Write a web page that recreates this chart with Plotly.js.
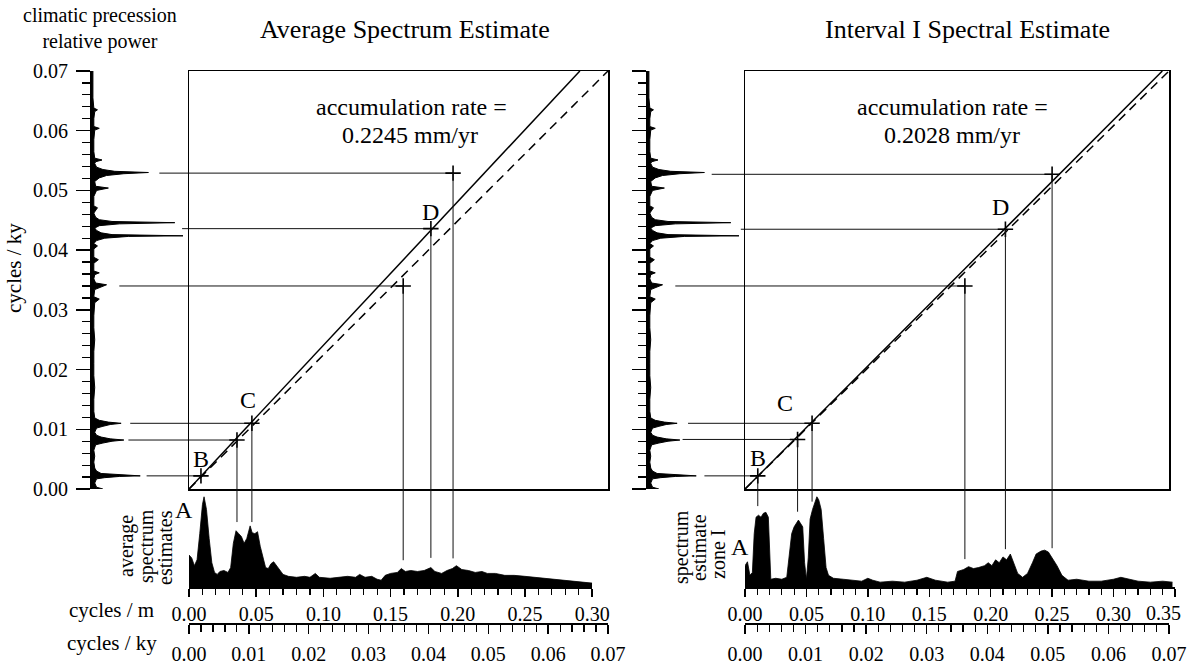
<!DOCTYPE html>
<html><head><meta charset="utf-8">
<script src="https://cdn.plot.ly/plotly-3.0.1.min.js"></script>
<style>html,body{margin:0;padding:0;background:#fff}#chart{width:1190px;height:668px}</style>
</head><body><div id="chart"></div>
<script>
// ---------------- data ----------------
// climatic precession spectrum: frequency (cycles/ky) and relative power
const precFreq = [0.0000,0.0003,0.0010,0.0017,0.0019,0.0021,0.0022,0.0024,0.0026,0.0030,0.0035,0.0045,0.0055,0.0065,0.0074,0.0077,0.0080,0.0082,0.0084,0.0087,0.0090,0.0095,0.0102,0.0105,0.0108,0.0110,0.0112,0.0115,0.0119,0.0130,0.0150,0.0170,0.0190,0.0210,0.0230,0.0250,0.0270,0.0290,0.0312,0.0318,0.0322,0.0334,0.0339,0.0342,0.0345,0.0352,0.0359,0.0362,0.0365,0.0378,0.0384,0.0388,0.0402,0.0407,0.0411,0.0416,0.0420,0.0423,0.0424,0.0426,0.0429,0.0433,0.0437,0.0441,0.0444,0.0446,0.0448,0.0451,0.0455,0.0462,0.0471,0.0474,0.0490,0.0500,0.0504,0.0507,0.0515,0.0521,0.0525,0.0528,0.0530,0.0532,0.0535,0.0539,0.0545,0.0548,0.0551,0.0554,0.0565,0.0585,0.0601,0.0604,0.0607,0.0620,0.0632,0.0635,0.0638,0.0655,0.0680,0.0700];
const precPower = [0.12,0.05,0.03,0.05,0.14,0.30,0.53,0.25,0.10,0.05,0.03,0.02,0.03,0.02,0.04,0.12,0.22,0.35,0.20,0.10,0.05,0.03,0.05,0.12,0.20,0.32,0.18,0.08,0.03,0.02,0.02,0.03,0.02,0.02,0.02,0.03,0.02,0.02,0.03,0.08,0.02,0.03,0.10,0.16,0.04,0.02,0.03,0.08,0.02,0.02,0.07,0.02,0.02,0.06,0.02,0.05,0.14,0.40,1.00,0.22,0.10,0.05,0.03,0.08,0.30,0.91,0.22,0.08,0.04,0.02,0.06,0.02,0.02,0.05,0.18,0.04,0.03,0.08,0.16,0.35,0.62,0.25,0.12,0.05,0.03,0.04,0.11,0.03,0.02,0.02,0.03,0.08,0.02,0.02,0.03,0.06,0.02,0.01,0.01,0.01];

// average spectrum estimates: frequency (cycles/m) and relative power
const avgSpecM = [0.000,0.002,0.004,0.006,0.008,0.010,0.0112,0.013,0.015,0.017,0.019,0.021,0.023,0.026,0.029,0.031,0.033,0.035,0.037,0.039,0.041,0.043,0.0455,0.047,0.049,0.051,0.053,0.055,0.057,0.059,0.061,0.063,0.065,0.067,0.070,0.074,0.080,0.086,0.090,0.094,0.097,0.105,0.112,0.118,0.124,0.127,0.131,0.136,0.140,0.143,0.146,0.150,0.155,0.158,0.161,0.165,0.170,0.175,0.180,0.183,0.188,0.192,0.196,0.199,0.203,0.208,0.213,0.218,0.222,0.228,0.235,0.242,0.250,0.258,0.265,0.272,0.280,0.288,0.295,0.300];
const avgSpecVal = [0.33,0.30,0.22,0.28,0.55,0.85,0.93,0.80,0.50,0.25,0.15,0.13,0.16,0.17,0.15,0.20,0.45,0.58,0.55,0.52,0.45,0.50,0.63,0.56,0.55,0.57,0.42,0.30,0.20,0.19,0.24,0.26,0.22,0.18,0.13,0.11,0.10,0.11,0.10,0.14,0.10,0.09,0.10,0.11,0.10,0.13,0.10,0.11,0.08,0.07,0.12,0.14,0.15,0.19,0.16,0.17,0.16,0.17,0.20,0.16,0.14,0.17,0.19,0.22,0.18,0.17,0.15,0.16,0.14,0.14,0.12,0.12,0.11,0.10,0.09,0.08,0.07,0.06,0.05,0.04];

// spectrum estimate, zone I: frequency (cycles/m) and relative power
const zoneSpecM = [0.000,0.002,0.004,0.006,0.0075,0.009,0.011,0.013,0.015,0.017,0.019,0.020,0.021,0.025,0.030,0.034,0.036,0.038,0.040,0.042,0.0435,0.045,0.047,0.0485,0.050,0.0515,0.053,0.055,0.057,0.0585,0.060,0.062,0.064,0.066,0.068,0.072,0.080,0.090,0.095,0.100,0.104,0.110,0.120,0.130,0.140,0.148,0.155,0.165,0.171,0.173,0.178,0.182,0.186,0.190,0.195,0.198,0.201,0.204,0.207,0.210,0.213,0.216,0.219,0.222,0.226,0.230,0.234,0.237,0.241,0.244,0.247,0.250,0.254,0.258,0.263,0.270,0.280,0.290,0.300,0.306,0.312,0.320,0.330,0.340,0.348];
const zoneSpecVal = [0.22,0.26,0.12,0.15,0.55,0.72,0.74,0.72,0.76,0.77,0.72,0.30,0.08,0.09,0.08,0.10,0.30,0.55,0.62,0.66,0.69,0.66,0.62,0.25,0.08,0.30,0.70,0.80,0.88,0.93,0.90,0.80,0.50,0.20,0.12,0.09,0.08,0.07,0.06,0.09,0.07,0.05,0.06,0.05,0.07,0.10,0.07,0.05,0.06,0.16,0.18,0.21,0.19,0.20,0.22,0.25,0.22,0.28,0.25,0.31,0.28,0.34,0.24,0.14,0.10,0.14,0.25,0.34,0.37,0.38,0.36,0.30,0.22,0.12,0.07,0.08,0.06,0.06,0.08,0.10,0.08,0.06,0.05,0.06,0.05];

// accumulation rates (mm/yr = m/ky)
const rateAvg = 0.2245;
const rateZone = 0.2028;
// tick values of the cycles/m and cycles/ky scales
const mTicksAvg  = [0.00, 0.05, 0.10, 0.15, 0.20, 0.25, 0.30];
const mTicksZone = [0.00, 0.05, 0.10, 0.15, 0.20, 0.25, 0.30, 0.35];
const kyTicks    = [0.00, 0.01, 0.02, 0.03, 0.04, 0.05, 0.06, 0.07];

// matched peaks: precession frequency (cycles/ky) vs observed frequency (cycles/m)
const peakLabels = ['B', '', 'C', '', 'D', ''];
const peakKyAvg = [0.0022, 0.0082, 0.0110, 0.0340, 0.0436, 0.0529];
const peakMAvg  = [0.0089, 0.0357, 0.0468, 0.1594, 0.1800, 0.1965];
const peakKyZone = [0.0022, 0.0083, 0.0110, 0.0340, 0.0435, 0.0527];
const peakMZone  = [0.0104, 0.0428, 0.0546, 0.1790, 0.2120, 0.2500];

// solid line: reaches 0.07 cycles/ky at this (cycles/ky) abscissa
const solidTopKyAvg = 0.0653;
const solidTopKyZone = 0.0689;

// ---------------- layout constants (pixels) ----------------
const W = 1190, H = 668;
const boxT = 71, boxB = 489, specBase = 587, specTop = 490, kyAxisY = 623;
const powPx = 91;                      // px per unit of precession power
const serif = '"Liberation Serif", "Times New Roman", Times, serif';
const fx = px => px / W;
const fy = px => 1 - px / H;
const K = n => (n === 1 ? '' : String(n));

function interp(xs, ys, x) {
  if (x <= xs[0]) return ys[0];
  for (let i = 1; i < xs.length; i++) {
    if (x <= xs[i]) { const t = (x - xs[i-1]) / (xs[i] - xs[i-1]); return ys[i-1] + t * (ys[i] - ys[i-1]); }
  }
  return ys[ys.length - 1];
}

const base = {showgrid:false, zeroline:false, showticklabels:false, ticks:'', showline:false, fixedrange:true};
const tickFont = {family: serif, size: 20, color: '#000'};

const traces = [];
const layout = {
  width: W, height: H, margin: {l:0, r:0, t:0, b:0},
  paper_bgcolor: '#fff', plot_bgcolor: 'rgba(0,0,0,0)',
  showlegend: false, annotations: []
};

function ann(text, px, py, size, extra) {
  layout.annotations.push(Object.assign({text, xref:'paper', yref:'paper', x: fx(px), y: fy(py),
    xanchor:'center', yanchor:'middle', showarrow:false, font:{family:serif, size, color:'#000'}}, extra || {}));
}

function panel(n0, cfg) {
  const a = n0, b = n0 + 1, c = n0 + 2, d = n0 + 3;
  const xa = 'x' + K(a), ya = 'y' + K(a), xb = 'x' + K(b), yb = 'y' + K(b);
  const xc = 'x' + K(c), yc = 'y' + K(c), xd = 'x' + K(d), yd = 'y' + K(d);
  const precMax = (cfg.boxL - cfg.precX) / powPx;
  const mBoxMax = 0.07 / cfg.rate;
  const mMax = cfg.mTicks[cfg.mTicks.length - 1];
  const pxPerM = (cfg.boxR - cfg.boxL) / mBoxMax;
  const mEndPx = cfg.boxL + mMax * pxPerM;
  const yvMin = -(specBase - boxB) / (boxB - boxT) * 0.07;

  // the last cycles/m label would run past the page edge: it is drawn pulled in
  const mText = cfg.mTicks.map(v => v.toFixed(2));
  if (mEndPx + 18 > W) {
    ann(mText[mText.length - 1], W - 27, 613, 20);
    mText[mText.length - 1] = '';
  }

  layout['xaxis' + K(a)] = Object.assign({}, base, {domain:[fx(cfg.precX), fx(cfg.boxL)], range:[0, precMax], anchor: ya});
  layout['yaxis' + K(a)] = Object.assign({}, base, {
    domain:[fy(boxB), fy(boxT)], range:[0, 0.07], anchor: xa,
    showline:true, linewidth:2, linecolor:'#000',
    ticks:'outside', ticklen:14, tickwidth:1.5, tickcolor:'#000',
    tickmode:'array', tickvals: kyTicks, ticktext: kyTicks.map(v => v.toFixed(2)),
    showticklabels: cfg.labels, tickfont: tickFont, ticklabelstandoff: 4,
    minor:{ticks:'outside', tick0:0, dtick:0.002, ticklen:8, tickwidth:1.2, tickcolor:'#000'}
  });
  const boxAx = {showline:true, mirror:true, linewidth:1.5, linecolor:'#000'};
  layout['xaxis' + K(b)] = Object.assign({}, base, boxAx, {domain:[fx(cfg.boxL), fx(cfg.boxR)], range:[0, mBoxMax], anchor: yb});
  layout['yaxis' + K(b)] = Object.assign({}, base, boxAx, {domain:[fy(boxB), fy(boxT)], range:[0, 0.07], anchor: xb});
  layout['xaxis' + K(c)] = Object.assign({}, base, {
    domain:[fx(cfg.boxL), fx(Math.min(mEndPx, W))], range:[0, mMax * 1.00001], anchor: yc,
    showline:true, linewidth:1.5, linecolor:'#000',
    ticks:'outside', ticklen:8, tickwidth:1.5, tickcolor:'#000',
    tickmode:'array', tickvals: cfg.mTicks, ticktext: mText,
    showticklabels:true, tickfont: tickFont, ticklabelstandoff: 0,
    minor:{ticks:'outside', tick0:0, dtick:0.01, ticklen:6, tickwidth:1.2, tickcolor:'#000'}
  });
  layout['yaxis' + K(c)] = Object.assign({}, base, {domain:[fy(specBase), fy(specTop)], range:[0, 1], anchor: xc});
  layout['xaxis' + K(d)] = Object.assign({}, base, {
    domain:[fx(cfg.boxL), fx(cfg.boxR)], range:[0, 0.07 * 1.00001], anchor:'free', position: fy(kyAxisY), side:'bottom',
    showline:true, linewidth:1.5, linecolor:'#000',
    ticks:'outside', ticklen:9, tickwidth:1.5, tickcolor:'#000',
    tickmode:'array', tickvals: kyTicks, ticktext: kyTicks.map(v => v.toFixed(2)),
    showticklabels:true, tickfont: tickFont, ticklabelstandoff: 3,
    minor:{ticks:'outside', tick0:0, dtick:0.002, ticklen:7, tickwidth:1.2, tickcolor:'#000'}
  });
  layout['yaxis' + K(d)] = Object.assign({}, base, {domain:[fy(specBase), fy(boxT)], range:[yvMin, 0.07], anchor: xb});

  // precession spectrum
  traces.push({x: precPower, y: precFreq, xaxis: xa, yaxis: ya, mode:'lines', fill:'tozerox',
    line:{color:'#000', width:1}, fillcolor:'#000', hoverinfo:'skip'});

  // horizontal leaders: part 1 (beside the precession spectrum), part 2 (inside the box)
  const l1x = [], l1y = [], l2x = [], l2y = [];
  cfg.ky.forEach((k, i) => {
    l1x.push(cfg.leaderStart[i], precMax, null); l1y.push(k, k, null);
    l2x.push(0, cfg.m[i], null); l2y.push(k, k, null);
  });
  traces.push({x:l1x, y:l1y, xaxis:xa, yaxis:ya, mode:'lines', line:{color:'#111', width:1}, hoverinfo:'skip'});
  traces.push({x:l2x, y:l2y, xaxis:xb, yaxis:yb, mode:'lines', line:{color:'#111', width:1}, hoverinfo:'skip'});

  // vertical leaders down to the spectrum
  const vx = [], vy = [];
  cfg.m.forEach((m, i) => {
    if (!cfg.connect[i]) return;
    const v = interp(cfg.specM, cfg.specVal, m) + 0.1;
    const endPx = specBase - v * (specBase - specTop);
    const yEnd = -(endPx - boxB) / (boxB - boxT) * 0.07;
    vx.push(m, m, null); vy.push(cfg.ky[i], yEnd, null);
  });
  traces.push({x:vx, y:vy, xaxis:xb, yaxis:yd, mode:'lines', line:{color:'#111', width:1}, hoverinfo:'skip'});

  // 1:1 dashed line and solid line
  traces.push({x:[0, mBoxMax], y:[0, 0.07], xaxis:xb, yaxis:yb, mode:'lines',
    line:{color:'#000', width:1.5, dash:'9px,6px'}, hoverinfo:'skip'});
  traces.push({x:[0, cfg.solidTopKy / cfg.rate], y:[0, 0.07], xaxis:xb, yaxis:yb, mode:'lines',
    line:{color:'#000', width:1.5}, hoverinfo:'skip'});

  // crosses
  traces.push({x: cfg.m, y: cfg.ky, xaxis:xb, yaxis:yb, mode:'markers',
    marker:{symbol:'cross-thin-open', size:11, color:'#000', line:{color:'#000', width:1.6}}, hoverinfo:'skip', cliponaxis:false});

  // spectrum
  traces.push({x: cfg.specM, y: cfg.specVal, xaxis: xc, yaxis: yc, mode:'lines', fill:'tozeroy',
    line:{color:'#000', width:0.8}, fillcolor:'#000', hoverinfo:'skip'});

  // carrier for the cycles/ky axis
  traces.push({x:[0.035], y:[0.5], xaxis: xd, yaxis: yc, mode:'markers', marker:{opacity:0, size:1}, hoverinfo:'skip'});
}

panel(1, {precX:92, boxL:189, boxR:608, rate:rateAvg, mTicks:mTicksAvg, labels:true,
  ky:peakKyAvg, m:peakMAvg, connect:[false,true,true,true,true,true],
  leaderStart:[0.60,0.40,0.42,0.30,0.99,0.74], solidTopKy:solidTopKyAvg,
  specM:avgSpecM, specVal:avgSpecVal});
panel(5, {precX:648, boxL:745, boxR:1169, rate:rateZone, mTicks:mTicksZone, labels:false,
  ky:peakKyZone, m:peakMZone, connect:[true,true,true,true,true,true],
  leaderStart:[0.62,0.38,0.44,0.30,1.02,0.70], solidTopKy:solidTopKyZone,
  specM:zoneSpecM, specVal:zoneSpecVal});

ann('climatic precession<br>relative power', 100, 28, 20);
ann('cycles / ky', 14, 268, 21, {textangle:-90});
ann('Average Spectrum Estimate', 405, 30, 26);
ann('Interval I Spectral Estimate', 967, 30, 26);
ann('accumulation rate =', 411, 107, 24);
ann('0.2245 mm/yr', 410, 135, 24);
ann('accumulation rate =', 952, 107, 24);
ann('0.2028 mm/yr', 952, 135, 24);
// point labels
ann('A', 184, 510, 24); ann(peakLabels[0], 201, 459, 24); ann(peakLabels[2], 248, 400, 24); ann(peakLabels[4], 430, 212, 24);
ann('A', 740, 547, 24); ann(peakLabels[0], 758, 458, 24); ann(peakLabels[2], 785, 403, 24); ann(peakLabels[4], 1000, 207, 24);
// spectrum titles
ann('average', 126, 546, 20, {textangle:-90});
ann('spectrum', 146, 546, 20, {textangle:-90});
ann('estimates', 165, 548, 20, {textangle:-90});
ann('spectrum', 681, 547, 20, {textangle:-90});
ann('estimate', 699, 548, 20, {textangle:-90});
ann('zone I', 718, 555, 20, {textangle:-90});
ann('cycles / m', 111, 610, 21);
ann('cycles / ky', 112, 643, 21);

Plotly.newPlot('chart', traces, layout, {staticPlot:true, displayModeBar:false});
</script>
</body></html>
